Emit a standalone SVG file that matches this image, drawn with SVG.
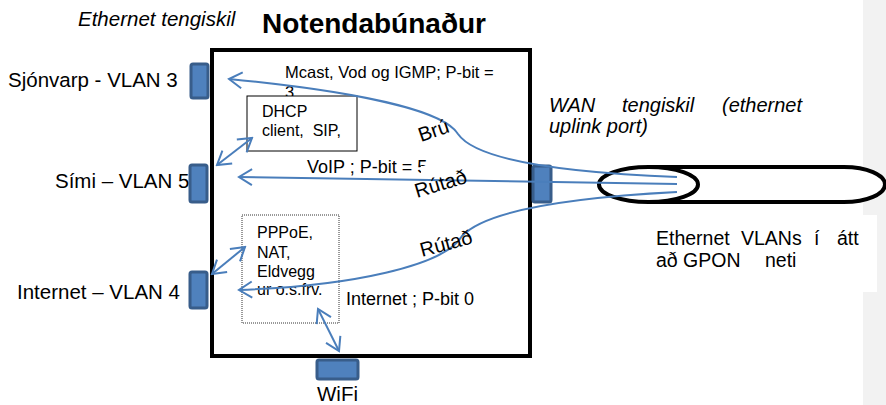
<svg xmlns="http://www.w3.org/2000/svg" width="886" height="405" viewBox="0 0 886 405">
<style>
text{font-family:"Liberation Sans",Arial,sans-serif;fill:#000;white-space:pre}
.lbl{font-size:20.5px}
.it{font-style:italic;font-size:20px}
.net{font-size:19.5px}
.sm{font-size:16px}
.md{font-size:18px}
.port{fill:#4f81bd;stroke:#385d8a;stroke-width:3}
.conn{fill:none;stroke:#4a7ebb;stroke-width:2}
.dbl{marker-start:url(#ah);marker-end:url(#ah)}
.one{marker-end:url(#ah)}
</style>
<defs>
<marker id="ah" viewBox="-16 -10 18 20" refX="0" refY="0" markerWidth="18" markerHeight="20" markerUnits="userSpaceOnUse" orient="auto-start-reverse">
<path d="M-13,-8 L0,0 L-13,8" fill="none" stroke="#4a7ebb" stroke-width="2"/>
</marker>
</defs>
<rect x="863" y="0" width="23" height="405" fill="#f2f2f2"/>
<rect x="640" y="215" width="237" height="77" fill="#fff"/>
<text x="78" y="26" class="it" style="font-size:20.5px">Ethernet tengiskil</text>
<text x="262" y="33" style="font-size:28px;font-weight:bold">Notendabúnaður</text>
<g id="device">
<rect x="212" y="50" width="318" height="306" fill="#fff" stroke="#000" stroke-width="4"/>
</g>
<text x="285" y="78" class="sm" style="font-size:16.5px">Mcast, Vod og IGMP; P-bit =</text>
<text x="285" y="97.5" class="sm" style="font-size:16.5px">3</text>
<text x="307" y="173" class="md">VoIP ; P-bit = 5</text>
<rect x="421" y="166" width="13" height="9" fill="#fff"/>
<text x="346" y="305" class="md">Internet ; P-bit 0</text>
<g id="dhcp">
<rect x="247" y="96" width="110" height="55" fill="#fff" stroke="#000" stroke-width="1"/>
<text x="262" y="117" class="sm">DHCP</text>
<text x="262" y="136" class="sm">client,  SIP,</text>
</g>
<g id="pppoe">
<rect x="242" y="215" width="97" height="108" fill="none" stroke="#333" stroke-width="1" stroke-dasharray="1 1"/>
<text x="257" y="238" class="sm">PPPoE,</text>
<text x="257" y="258" class="sm">NAT,</text>
<text x="257" y="277" class="sm">Eldvegg</text>
<text x="257" y="295" class="sm">ur o.s.frv.</text>
</g>
<g id="port-tv">
<rect class="port" x="191" y="64" width="17" height="34" rx="2"/>
<text x="8" y="87" class="lbl">Sjónvarp - VLAN 3</text>
</g>
<g id="port-phone">
<text x="55" y="188" class="lbl">Sími – VLAN 5</text>
<rect class="port" x="190" y="165" width="17" height="37" rx="2"/>
</g>
<g id="port-internet">
<rect class="port" x="190" y="272" width="17" height="36" rx="2"/>
<text x="17" y="299" class="lbl">Internet – VLAN 4</text>
</g>
<g id="port-wifi">
<rect class="port" x="317" y="360" width="41" height="19" rx="2"/>
<text x="317" y="401" class="lbl">WiFi</text>
</g>
<g id="port-wan">
<rect class="port" x="533" y="166" width="18" height="36" rx="2"/>
<text x="549" y="112" class="it">WAN</text>
<text x="622" y="112" class="it">tengiskil</text>
<text x="722" y="112" class="it">(ethernet</text>
<text x="549" y="133" class="it">uplink port)</text>
</g>
<g id="gpon">
<path d="M648.5,167 H844 A41,17.5 0 0 1 844,202 H648.5" fill="#fff" stroke="#000" stroke-width="4"/>
<ellipse cx="648.5" cy="184.5" rx="49.5" ry="17.5" fill="#fff" stroke="#000" stroke-width="4"/>
<text x="656" y="245" class="net">Ethernet</text>
<text x="741" y="245" class="net">VLANs</text>
<text x="814" y="245" class="net">í</text>
<text x="837" y="245" class="net">átt</text>
<text x="656" y="267" class="net">að GPON</text>
<text x="765" y="267" class="net">neti</text>
</g>
<g id="connectors">
<path class="conn one" d="M677,177 C600,174 480,166 458,134 C440,105 320,88 229,79"/>
<path class="conn one" d="M677,184 C560,182 400,179 239,177"/>
<path class="conn one" d="M677,192 C600,196 490,206 462,236 C445,266 350,286 239,290"/>
<path class="conn dbl" d="M217,165 L252,138"/>
<path class="conn dbl" d="M212,274 L245,247"/>
<path class="conn dbl" d="M318,309 L339,351"/>
</g>
<text transform="translate(421,142) rotate(-19)" class="lbl" style="font-size:20px">Brú</text>
<text transform="translate(417,198) rotate(-17)" class="lbl" style="font-size:20px">Rútað</text>
<text transform="translate(422,257) rotate(-15)" class="lbl" style="font-size:20px">Rútað</text>
</svg>
